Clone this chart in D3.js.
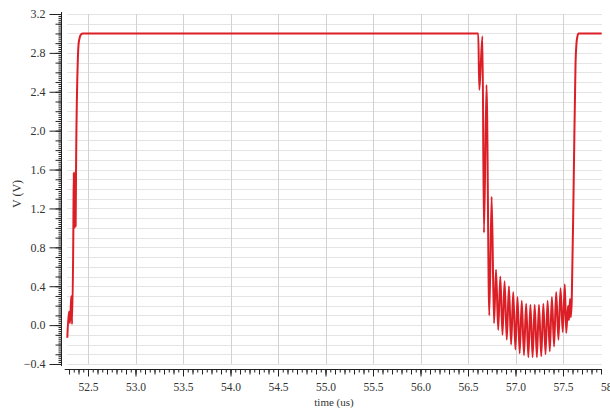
<!DOCTYPE html>
<html>
<head>
<meta charset="utf-8">
<script src="https://cdn.jsdelivr.net/npm/d3@7"></script>
<style>
  html, body { margin: 0; padding: 0; background: #fff; }
  svg { display: block; }
  svg text { font-family: "Liberation Serif", "DejaVu Serif", "Times New Roman", serif !important; font-size: 12px; fill: #333; }
  .xaxis text { font-size: 11.5px; }
  .axis path, .axis line { stroke: #222; }
</style>
</head>
<body>
<svg id="chart" width="610" height="408"></svg>
<script>
// ---- data ----
const timeUs = [
  52.282, 52.300, 52.311, 52.324, 52.332, 52.346, 52.350, 52.354, 52.358, 52.362,
  52.366, 52.370, 52.374, 52.392, 52.400, 52.411, 52.426, 52.447,
  56.608, 56.619, 56.652, 56.668, 56.695, 56.724, 56.749, 56.774, 56.795, 56.818,
  56.840, 56.863, 56.885, 56.908, 56.931, 56.954, 56.976, 56.999, 57.021, 57.044,
  57.066, 57.089, 57.112, 57.135, 57.157, 57.180, 57.202, 57.225, 57.247, 57.271,
  57.293, 57.316, 57.338, 57.361, 57.383, 57.406, 57.428, 57.452, 57.474, 57.497,
  57.519, 57.534, 57.553, 57.563, 57.574, 57.582, 57.592, 57.613, 57.632, 57.642,
  57.652, 57.663, 57.907
];
const voltage = [
  -0.13, 0.14, 0.02, 0.30, 0.01, 1.00, 1.57, 1.00, 1.57, 1.00,
  1.57, 1.02, 1.58, 2.70, 2.88, 2.95, 2.99, 3.00,
  3.00, 2.42, 2.97, 0.95, 2.47, 0.10, 1.32, 0.02, 0.57, -0.05,
  0.50, -0.10, 0.45, -0.15, 0.40, -0.20, 0.34, -0.25, 0.29, -0.29,
  0.25, -0.31, 0.22, -0.33, 0.21, -0.33, 0.21, -0.33, 0.21, -0.32,
  0.22, -0.30, 0.25, -0.27, 0.29, -0.22, 0.34, -0.15, 0.38, -0.07,
  0.42, -0.08, 0.20, 0.05, 0.27, 0.08, 0.25, 1.50, 2.70, 2.90,
  2.97, 3.00, 3.00
];
const xTickValues = [52.5, 53.0, 53.5, 54.0, 54.5, 55.0, 55.5, 56.0, 56.5, 57.0, 57.5, 58.0];
const yTickValues = [-0.4, 0.0, 0.4, 0.8, 1.2, 1.6, 2.0, 2.4, 2.8, 3.2];
const xLabel = "time (us)";
const yLabel = "V (V)";

// ---- layout ----
const svg = d3.select("#chart");
const x = d3.scaleLinear().domain([52.5, 58.0]).range([88, 610.5]);
const y = d3.scaleLinear().domain([-0.4, 3.2]).range([364, 14]);
const xStart = 52.255, xEnd = 57.91;
const axisX = 61, axisY = 369;

const range = (a, b, s) => d3.range(Math.round(a / s), Math.round(b / s) + 1).map(k => +(k * s).toFixed(4));

// grid
const grid = svg.append("g");
grid.selectAll("line.h").data(range(-0.4, 3.2, 0.1)).join("line")
  .attr("x1", x(52.28)).attr("x2", x(xEnd))
  .attr("y1", d => Math.round(y(d)) + 0.5).attr("y2", d => Math.round(y(d)) + 0.5)
  .attr("stroke", "#e4e4e4").attr("stroke-width", 1);
grid.selectAll("line.v").data(range(52.5, 57.5, 0.5)).join("line")
  .attr("x1", d => Math.round(x(d)) + 0.5).attr("x2", d => Math.round(x(d)) + 0.5)
  .attr("y1", y(3.2)).attr("y2", y(-0.4))
  .attr("stroke", "#d2d2d2").attr("stroke-width", 1);

// y axis
function yAxisLayer(vals, size, fmt) {
  const g = svg.append("g").attr("class", "axis").attr("transform", `translate(${axisX + 0.5},0)`)
    .call(d3.axisLeft(y).tickValues(vals).tickSize(size).tickSizeOuter(0).tickPadding(4).tickFormat(fmt || (() => "")));
  g.select(".domain").remove();
  return g;
}
yAxisLayer(range(-0.4, 3.2, 0.02), 3);
yAxisLayer(range(-0.4, 3.2, 0.1), 6);
yAxisLayer(yTickValues, 12, d3.format(".1f"));
svg.append("line").attr("x1", axisX + 0.5).attr("x2", axisX + 0.5)
  .attr("y1", y(3.2) - 2).attr("y2", y(-0.4) + 2).attr("stroke", "#222");

// x axis
function xAxisLayer(vals, size, fmt) {
  const g = svg.append("g").attr("class", "axis xaxis").attr("transform", `translate(0,${axisY + 0.5})`)
    .call(d3.axisBottom(x).tickValues(vals).tickSize(size).tickSizeOuter(0).tickPadding(6).tickFormat(fmt || (() => "")));
  g.select(".domain").remove();
  return g;
}
xAxisLayer(range(52.3, 57.9, 0.05).filter(d => d >= xStart && d <= xEnd), 3);
xAxisLayer(range(52.3, 57.9, 0.1), 5);
xAxisLayer(xTickValues, 7, d3.format(".1f"));
svg.append("line").attr("x1", x(xStart)).attr("x2", x(xEnd))
  .attr("y1", axisY + 0.5).attr("y2", axisY + 0.5).attr("stroke", "#222");

// labels
svg.append("text").attr("x", 334).attr("y", 406).attr("text-anchor", "middle")
  .style("font-size", "11px").text(xLabel);
svg.append("text").attr("transform", "translate(21,194) rotate(-90)").attr("text-anchor", "middle").text(yLabel);

// waveform
const pts = timeUs.map((t, i) => [t, voltage[i]]);
svg.append("path").datum(pts)
  .attr("fill", "none").attr("stroke", "#dc1f26").attr("stroke-width", 2)
  .attr("stroke-linejoin", "round")
  .attr("d", d3.line().x(d => x(d[0])).y(d => y(d[1])).curve(d3.curveMonotoneX));
</script>
</body>
</html>
